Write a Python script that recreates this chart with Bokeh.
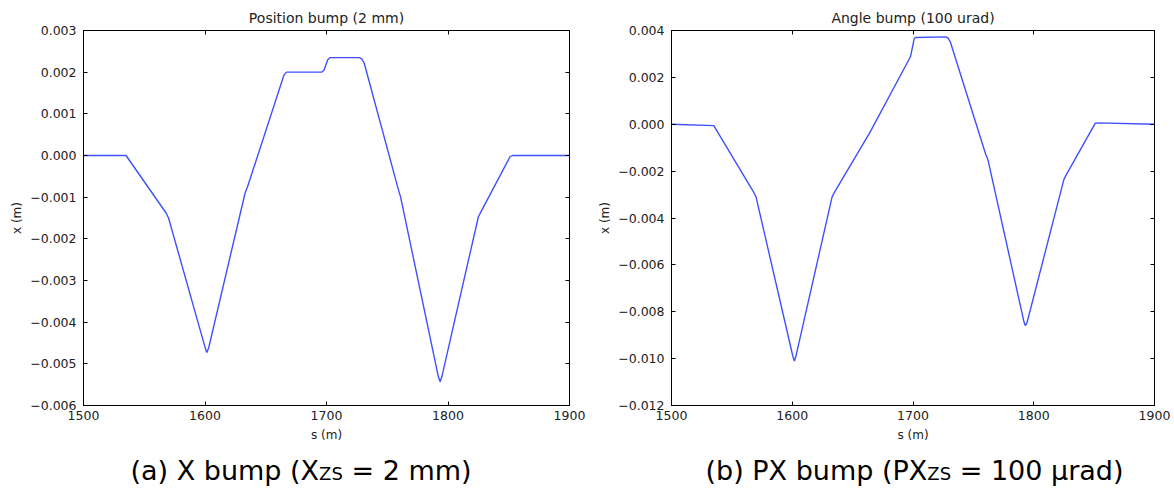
from bokeh.plotting import figure
from bokeh.models import Range1d, FixedTicker, LinearAxis, CustomJSTickFormatter, Label
from bokeh.layouts import row, column
from bokeh.embed import file_html
from bokeh.resources import INLINE

# ---------------- data ----------------
s_ticks = [1500, 1600, 1700, 1800, 1900]

pos_title = "Position bump (2 mm)"
pos_s = [1500, 1535, 1568, 1570, 1600, 1601.5, 1603, 1633, 1635, 1665, 1667,
         1696, 1698, 1701, 1703, 1727, 1729, 1731, 1759, 1761, 1792, 1793.5,
         1795, 1825, 1827, 1851, 1853, 1900]
pos_x = [0.0, 0.0, -0.00138, -0.00150, -0.00460, -0.00473, -0.00462, -0.00090,
         -0.00075, 0.00193, 0.00200, 0.00200, 0.00205, 0.00230, 0.00235,
         0.00235, 0.00232, 0.00222, -0.00080, -0.00100, -0.00530, -0.00543,
         -0.00530, -0.00147, -0.00136, -0.00003, 0.0, 0.0]
pos_yticks = [0.003, 0.002, 0.001, 0.0, -0.001, -0.002, -0.003, -0.004, -0.005, -0.006]

ang_title = "Angle bump (100 urad)"
ang_s = [1500, 1535, 1568, 1570, 1600.5, 1601.8, 1603, 1633, 1635, 1664, 1696,
         1698, 1701, 1702, 1727, 1729, 1731, 1760, 1762, 1792, 1793, 1794.5,
         1825, 1827, 1851, 1853, 1900]
ang_x = [0.0, -0.00006, -0.00290, -0.00310, -0.00990, -0.01010, -0.00990,
         -0.00310, -0.00290, -0.00038, 0.00270, 0.00290, 0.00365, 0.00370,
         0.00373, 0.00368, 0.00350, -0.00125, -0.00150, -0.00845, -0.00859,
         -0.00845, -0.00235, -0.00215, 0.00005, 0.00006, 0.0]
ang_yticks = [0.004, 0.002, 0.0, -0.002, -0.004, -0.006, -0.008, -0.010, -0.012]

cap_a = ["(a) X bump (X", "ZS", "= 2 mm)"]
cap_b = ["(b) PX bump (PX", "ZS", "= 100 \u03bcrad)"]

FONT = "DejaVu Sans"
TXT = "#222222"

yfmt_code = 'return (tick < -1e-12 ? "\u2212" : "") + Math.abs(tick).toFixed(3);'
blank_code = 'return "";'

PLOT_H = 446
CAP_H = 41


def panel(title, s, x, yticks, width, bl, br, fh):
    p = figure(width=width, height=PLOT_H, output_backend="svg",
               toolbar_location=None, tools="",
               x_range=Range1d(s_ticks[0], s_ticks[-1]),
               y_range=Range1d(min(yticks), max(yticks)),
               min_border_left=bl, min_border_right=br,
               min_border_top=30, min_border_bottom=PLOT_H - 30 - fh)
    p.background_fill_color = "white"
    p.border_fill_color = "white"
    p.grid.visible = False
    p.outline_line_color = "#000000"
    p.outline_line_width = 1

    p.title.text = title
    p.title.align = "center"
    p.title.text_font = FONT
    p.title.text_font_size = "14px"
    p.title.text_font_style = "normal"
    p.title.text_color = TXT
    p.title.standoff = 10
    p.title.offset = 0

    xa = p.xaxis[0]
    xa.ticker = FixedTicker(ticks=s_ticks)
    xa.axis_label = "s (m)"
    ya = p.yaxis[0]
    ya.ticker = FixedTicker(ticks=yticks)
    ya.formatter = CustomJSTickFormatter(code=yfmt_code)
    ya.axis_label = "x (m)"
    for a in (xa, ya):
        a.axis_line_color = "#000000"
        a.major_tick_in = 4
        a.major_tick_out = 0
        a.minor_tick_line_color = None
        a.major_tick_line_color = "#000000"
        a.major_label_text_font = FONT
        a.major_label_text_font_size = "12.5px"
        a.major_label_text_color = TXT
        a.axis_label_text_font = FONT
        a.axis_label_text_font_size = "12px"
        a.axis_label_text_font_style = "normal"
        a.axis_label_text_color = TXT
    xa.major_label_standoff = 5
    xa.axis_label_standoff = 5
    ya.major_label_standoff = 7
    ya.axis_label_standoff = 3

    top = LinearAxis(ticker=FixedTicker(ticks=s_ticks),
                     formatter=CustomJSTickFormatter(code=blank_code))
    right = LinearAxis(ticker=FixedTicker(ticks=yticks),
                       formatter=CustomJSTickFormatter(code=blank_code))
    for a in (top, right):
        a.major_tick_in = 4
        a.major_tick_out = 0
        a.minor_tick_line_color = None
        a.major_label_standoff = 0
        a.major_label_text_font_size = "1px"
        a.axis_line_color = "#000000"
    p.add_layout(top, "above")
    p.add_layout(right, "right")

    p.line(s, x, line_color="#3f51ff", line_width=1.4)
    return p


p1 = panel(pos_title, pos_s, pos_x, pos_yticks, 590, 83, 21, 376)
p2 = panel(ang_title, ang_s, ang_x, ang_yticks, 584, 81, 20, 375)

# caption strip (pixel coordinates)
cap = figure(width=1174, height=CAP_H, output_backend="svg", title=None,
             toolbar_location=None, tools="",
             x_range=Range1d(0, 1174), y_range=Range1d(0, CAP_H),
             min_border=0, min_border_left=0, min_border_right=0,
             min_border_top=0, min_border_bottom=0)
cap.axis.visible = False
cap.grid.visible = False
cap.outline_line_color = None
cap.background_fill_color = "white"
cap.border_fill_color = "white"


def add_caption(parts, xs):
    sizes = ["27px", "18px", "27px"]
    ys = [17.5, 14.5, 17.5]
    for txt, xx, sz, yy in zip(parts, xs, sizes, ys):
        cap.add_layout(Label(x=xx, y=yy, text=txt, text_font=FONT,
                             text_font_size=sz, text_color="#000000",
                             text_align="left", text_baseline="alphabetic"))


add_caption(cap_a, [130, 318.6, 351.0])
add_caption(cap_b, [705, 926.8, 959.2])

layout = column(row(p1, p2, spacing=0), cap, spacing=0)
open("out.html", "w").write(file_html(layout, INLINE))
